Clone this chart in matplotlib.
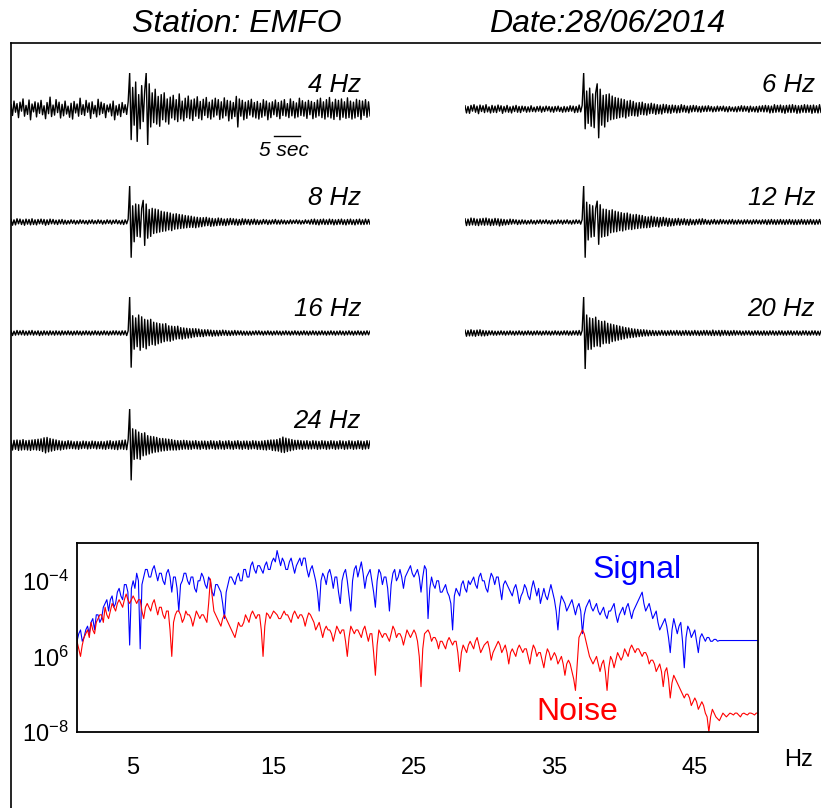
import numpy as np
import matplotlib
matplotlib.use("Agg")
import matplotlib.pyplot as plt

plt.rcParams['font.family'] = ['Liberation Sans', 'DejaVu Sans']
plt.rcParams['axes.unicode_minus'] = False

# ---------------- data ----------------
station_title = "Station: EMFO"
date_title = "Date:28/06/2014"
trace_seconds = 69.0          # time span of each trace
scale_bar_sec = 5

# waveform samples (percent of each trace's maximum), 240 samples per trace
tr_4hz = [12,-18,22,-9,15,-24,19,-6,28,-20,10,-15,25,-30,14,-8,20,-22,17,-12,
          24,-16,9,-27,18,-13,33,-21,11,-17,26,-10,19,-25,13,-19,22,-14,8,-23,
          16,-28,21,-11,14,-20,30,-15,12,-18,24,-9,17,-26,20,-13,10,-22,27,-16,
          19,-12,15,-24,11,-8,14,-19,22,-30,9,-17,13,-21,18,-10,12,-15,20,100,
          -85,60,-45,75,-90,40,-55,65,-35,50,100,-100,70,-50,45,-38,55,-42,35,-48,
          40,-30,45,-36,28,-42,33,-25,38,-30,26,-35,42,-28,22,-33,30,-24,36,-27,
          25,-32,28,-20,34,-26,21,-30,27,-18,32,-24,19,-28,25,-22,30,-17,26,-29,
          20,-25,31,-19,24,-33,22,-27,18,-21,35,-50,28,-20,24,-30,19,-26,23,-17,
          27,-22,18,-25,21,-28,16,-23,26,-19,22,-30,17,-24,20,-16,25,-21,18,-27,
          22,-18,26,-20,15,-24,28,-19,21,-25,17,-22,30,-18,23,-20,19,-26,24,-16,
          21,-27,18,-23,25,-19,30,-24,20,-28,26,-22,32,-25,19,-29,27,-21,24,-30,
          28,-23,20,-26,31,-24,22,-28,19,-25,27,-21,24,-29,22,-18,26,-23,20,-19]
tr_6hz = [9,-11,7,-12,10,-6,12,-9,8,-13,11,-7,9,-10,12,-8,6,-11,10,-9,
          8,-10,11,-6,9,-12,7,-8,10,-9,6,-11,8,-7,10,-9,7,-10,8,-6,
          7,-9,6,-8,9,-7,5,-8,7,-6,8,-9,6,-7,8,-5,7,-8,6,-9,
          7,-6,8,-7,5,-9,7,-8,6,-7,9,-6,8,-10,7,-9,11,-8,10,100,
          -55,50,-40,58,-48,42,-52,45,70,-80,55,-45,38,-50,40,-35,42,-30,36,-28,
          32,-26,30,-24,28,-22,26,-25,22,-20,24,-18,21,-19,17,-20,18,-15,19,-16,
          15,-17,14,-13,16,-12,14,-15,12,-13,11,-14,13,-10,12,-11,10,-12,11,-9,
          10,-11,9,-10,12,-8,10,-9,8,-11,9,-8,10,-7,9,-8,7,-9,8,-7,
          8,-7,9,-6,7,-8,6,-7,8,-6,7,-5,8,-7,6,-8,7,-6,5,-7,
          6,-8,7,-6,9,-7,8,-6,7,-9,8,-7,6,-8,7,-9,8,-7,9,-8,
          10,-8,9,-11,8,-10,12,-9,10,-8,11,-10,9,-12,10,-9,11,-10,12,-9,
          10,-12,9,-11,10,-9,12,-10,11,-9,10,-12,11,-10,9,-11,12,-10,11,-9]
tr_8hz = [7,-9,6,-8,9,-5,8,-7,6,-9,8,-6,7,-8,9,-7,6,-8,7,-5,
          8,-6,7,-9,6,-7,8,-5,7,-6,5,-7,6,-5,7,-6,5,-6,4,-5,
          6,-4,5,-6,4,-5,6,-4,5,-5,4,-6,5,-4,6,-5,4,-5,6,-4,
          5,-6,4,-5,6,-4,5,-6,5,-4,6,-5,4,-6,5,-7,6,-5,8,100,
          -98,45,-55,50,-40,48,-42,38,60,-65,50,-45,35,-40,38,-32,36,-30,34,-28,
          30,-26,28,-25,27,-22,25,-24,22,-20,23,-19,21,-18,20,-17,18,-16,17,-15,
          16,-15,14,-16,13,-14,12,-13,12,-11,13,-10,11,-12,10,-11,9,-10,11,-9,
          10,-9,8,-10,9,-8,10,-7,9,-8,8,-9,7,-8,9,-7,8,-6,7,-8,
          7,-6,8,-7,6,-7,5,-6,7,-5,6,-7,5,-6,6,-5,7,-6,5,-6,
          6,-5,5,-6,4,-5,6,-5,5,-4,6,-5,5,-6,4,-5,6,-4,5,-6,
          7,-6,8,-7,6,-8,7,-6,8,-7,6,-7,8,-6,7,-8,6,-7,7,-6,
          8,-7,6,-8,7,-6,8,-7,6,-8,7,-6,8,-7,6,-7,8,-6,7,-6]
tr_12hz = [9,-10,8,-9,11,-8,10,-9,8,-10,9,-8,10,-9,11,-8,9,-10,8,-9,
           10,-8,9,-11,8,-9,7,-8,6,-7,8,-6,7,-5,6,-7,5,-6,6,-5,
           5,-6,4,-5,6,-5,4,-6,5,-4,6,-5,5,-4,6,-5,4,-6,5,-5,
           4,-5,6,-4,5,-6,5,-4,6,-5,4,-6,5,-5,6,-4,5,-6,7,100,
           -98,55,-50,48,-42,45,-40,38,58,-62,48,-42,36,-40,35,-38,32,-30,34,-28,
           30,-27,28,-24,26,-25,24,-22,25,-20,22,-21,20,-19,21,-18,19,-17,18,-16,
           15,-16,14,-15,16,-13,14,-12,13,-14,12,-11,13,-10,11,-12,10,-11,9,-10,
           9,-8,10,-9,8,-7,9,-8,7,-9,8,-7,6,-8,7,-6,8,-7,9,-6,
           7,-6,5,-7,6,-5,7,-6,5,-6,7,-5,6,-5,5,-6,6,-5,7,-6,
           5,-6,6,-5,5,-6,6,-5,6,-5,5,-6,6,-5,6,-5,5,-6,6,-5,
           6,-7,6,-6,7,-6,6,-7,6,-6,7,-6,6,-7,6,-6,7,-6,6,-7,
           6,-7,6,-6,7,-6,6,-7,6,-6,7,-6,6,-7,6,-6,7,-6,6,-7]
tr_16hz = [6,-7,5,-6,7,-5,6,-5,7,-6,5,-6,6,-5,7,-6,5,-5,6,-7,
           5,-6,6,-5,5,-6,6,-5,5,-6,6,-5,5,-6,6,-5,5,-5,6,-5,
           5,-6,5,-5,6,-5,5,-6,5,-5,6,-5,5,-6,5,-5,6,-5,5,-6,
           5,-5,6,-5,5,-6,5,-5,6,-5,6,-5,5,-6,6,-5,6,-7,6,100,
           -95,48,-45,42,-38,50,-48,45,-40,38,-44,36,-35,38,-32,30,-34,28,-30,26,
           -27,25,-24,26,-22,20,-23,19,-20,18,-17,19,-16,15,-17,14,-15,13,-14,12,
           -13,12,-11,12,-10,11,-10,9,-10,9,-8,9,-8,8,-9,7,-8,7,-8,7,
           -7,8,-6,7,-7,6,-7,6,-6,7,-6,6,-5,6,-6,5,-6,5,-6,5,
           -6,5,-5,6,-5,6,-5,5,-6,5,-5,6,-5,5,-6,5,-5,6,-5,5,
           -6,5,-5,6,-5,5,-6,5,-5,6,-5,5,-6,5,-5,6,-5,5,-6,5,
           -5,6,-5,5,-6,5,-5,6,-5,5,-6,5,-5,6,-5,5,-6,5,-5,6,
           -5,5,-6,5,-5,6,-5,5,-6,5,-5,6,-5,5,-6,5,-5,6,-5,5]
tr_20hz = [8,-9,7,-8,9,-8,7,-9,8,-7,9,-8,7,-8,6,-7,6,-5,6,-6,
           5,-6,5,-5,6,-5,5,-6,5,-5,6,-5,5,-6,5,-5,6,-5,5,-6,
           5,-5,6,-5,5,-6,5,-5,6,-5,5,-6,5,-5,6,-5,5,-6,5,-5,
           6,-5,5,-6,5,-5,6,-5,6,-6,5,-6,6,-5,6,-6,7,-6,7,100,
           -100,50,-46,42,-45,40,-38,44,-36,35,-38,32,-30,33,-28,27,-29,25,-24,23,
           -22,21,-20,19,-18,17,-16,15,-14,14,-13,12,-12,11,-11,10,-10,9,-9,9,
           -8,8,-8,7,-7,7,-7,6,-7,6,-6,7,-6,6,-7,6,-6,7,-6,6,
           -6,7,-6,6,-7,6,-6,7,-6,6,-7,6,-6,7,-6,6,-7,6,-6,7,
           -6,7,-6,6,-7,8,-7,6,-6,7,-8,7,-6,7,-6,6,-7,6,-6,7,
           -6,6,-5,6,-6,5,-6,6,-5,6,-6,5,-6,6,-5,6,-6,5,-6,6,
           -6,5,-6,6,-5,6,-6,5,-6,6,-5,6,-6,5,-6,6,-5,6,-6,5,
           -5,6,-6,5,-6,6,-5,6,-6,5,-6,6,-5,6,-6,5,-6,6,-5,6]
tr_24hz = [12,-14,13,-12,14,-15,13,-14,15,-13,12,-14,13,-15,14,-13,15,-14,16,-15,
           17,-18,20,-22,21,-19,18,-17,16,-15,14,-13,12,-14,11,-12,10,-11,12,-10,
           11,-10,9,-11,10,-12,9,-10,11,-9,10,-11,9,-10,11,-9,10,-11,9,-10,
           10,-11,9,-12,11,-10,12,-11,10,-12,11,-13,12,-11,13,-12,14,-13,15,100,
           -97,45,-40,42,-38,36,-40,32,-30,34,-28,26,-25,24,-22,23,-20,21,-19,18,
           -17,18,-16,17,-15,16,-14,15,-14,13,-14,12,-13,12,-12,13,-11,12,-12,11,
           -12,11,-10,12,-11,10,-12,11,-10,11,-12,10,-11,12,-10,11,-12,10,-11,12,
           -11,10,-12,11,-10,12,-11,10,-12,11,-10,12,-11,10,-12,11,-10,11,-12,10,
           -11,12,-10,11,-12,10,-12,11,-13,12,-14,13,-12,14,-15,14,-16,15,-17,18,
           -20,22,-21,19,-18,17,-16,15,-14,13,-12,13,-11,12,-12,11,-10,12,-11,10,
           -11,12,-10,11,-12,10,-11,12,-10,11,-12,10,-11,12,-10,11,-12,10,-11,12,
           -10,11,-12,10,-11,12,-10,11,-12,10,-11,12,-10,11,-12,10,-11,12,-10,11]

trace_labels = ["4 Hz", "6 Hz", "8 Hz", "12 Hz", "16 Hz", "20 Hz", "24 Hz"]
traces = [tr_4hz, tr_6hz, tr_8hz, tr_12hz, tr_16hz, tr_20hz, tr_24hz]

# spectra (log10 amplitude), 1.0 .. 49.5 Hz every 0.125 Hz (8 readings per Hz)
spec_f_start, spec_f_step = 1.0, 0.125
signal_log = [
    -5.6,-5.4,-5.3,-5.6,-5.5,-5.3,-5.2,-5.4,   -5.1,-5.0,-5.3,-4.9,-4.9,-5.1,-5.0,-4.7,
    -4.6,-4.5,-4.8,-4.5,-4.4,-4.7,-4.6,-4.3,   -4.2,-4.4,-4.5,-4.1,-4.1,-4.3,-5.7,-4.2,
    -4.0,-4.2,-3.8,-4.0,-5.8,-4.1,-3.9,-3.7,   -3.7,-3.9,-3.9,-3.7,-3.6,-3.8,-4.0,-3.8,
    -3.8,-4.0,-4.1,-3.8,-3.7,-3.9,-4.3,-3.9,   -3.9,-4.2,-4.8,-4.1,-4.0,-3.8,-3.8,-4.0,
    -4.1,-3.9,-3.9,-4.2,-4.3,-4.0,-4.0,-3.8,   -3.9,-4.1,-4.2,-3.9,-4.0,-4.3,-4.4,-4.1,
    -4.1,-4.2,-4.3,-4.6,-5.0,-4.3,-4.1,-3.9,   -3.9,-4.0,-4.1,-3.9,-3.8,-4.0,-4.0,-3.7,
    -3.7,-3.9,-3.9,-3.6,-3.5,-3.7,-3.8,-3.6,   -3.6,-3.7,-3.8,-3.6,-3.5,-3.7,-3.7,-3.5,
    -3.4,-3.5,-3.2,-3.4,-3.6,-3.4,-3.5,-3.7,   -3.7,-3.5,-3.4,-3.6,-3.8,-3.6,-3.5,-3.4,
    -3.6,-3.4,-3.4,-3.7,-3.9,-3.7,-3.6,-3.8,   -4.0,-4.3,-4.8,-4.0,-3.8,-3.9,-4.1,-3.8,
    -3.7,-3.9,-4.2,-3.9,-3.9,-4.3,-4.6,-4.0,   -3.8,-3.7,-4.0,-4.4,-4.8,-4.0,-3.7,-3.6,
    -3.9,-3.7,-3.5,-3.8,-4.2,-3.9,-3.8,-3.7,   -4.0,-4.3,-4.7,-4.0,-3.7,-3.8,-4.1,-3.9,
    -3.9,-4.2,-4.8,-4.1,-3.8,-3.7,-4.0,-3.9,   -3.7,-3.9,-4.2,-3.9,-3.8,-3.7,-3.6,-3.8,
    -3.9,-3.8,-3.7,-3.9,-4.3,-3.9,-3.6,-3.7,   -5.0,-4.2,-3.9,-4.1,-4.2,-4.0,-4.0,-4.3,
    -4.3,-4.2,-4.1,-4.3,-4.4,-4.6,-5.3,-4.4,   -4.2,-4.3,-4.4,-4.1,-4.0,-4.2,-4.3,-4.0,
    -4.1,-4.0,-3.9,-4.1,-4.2,-3.9,-3.8,-4.0,   -4.0,-4.2,-4.3,-4.0,-3.8,-3.9,-4.1,-3.9,
    -3.9,-4.2,-4.5,-4.1,-4.0,-4.1,-4.2,-4.3,   -4.4,-4.2,-4.1,-4.3,-4.6,-4.4,-4.3,-4.1,
    -4.2,-4.4,-4.5,-4.2,-4.0,-4.2,-4.4,-4.2,   -4.6,-4.4,-4.2,-4.4,-4.5,-4.3,-4.1,-4.3,
    -4.5,-4.8,-5.3,-4.7,-4.4,-4.5,-4.6,-4.8,   -4.7,-4.6,-4.5,-4.7,-4.9,-4.7,-4.6,-4.8,
    -5.4,-4.9,-4.7,-4.6,-4.5,-4.7,-4.8,-4.7,   -4.6,-4.8,-4.9,-4.8,-4.7,-4.9,-5.0,-4.8,
    -4.8,-4.7,-4.6,-4.9,-5.1,-4.9,-4.8,-4.7,   -4.9,-4.7,-4.6,-4.8,-5.0,-4.8,-4.7,-4.6,
    -4.5,-4.4,-4.3,-4.6,-4.8,-4.7,-4.6,-4.8,   -5.0,-4.9,-4.8,-5.1,-5.3,-5.2,-5.1,-5.0,
    -5.2,-5.5,-5.9,-5.3,-5.0,-5.2,-5.4,-5.2,   -5.1,-5.6,-6.3,-5.5,-5.2,-5.3,-5.5,-5.4,
    -5.3,-5.6,-5.9,-5.5,-5.4,-5.5,-5.6,-5.5,   -5.5,-5.6,-5.6,-5.55,-5.55,-5.6,-5.58,-5.58,
    -5.58,-5.58,-5.58,-5.58,-5.58,-5.58,-5.58,-5.58,
    -5.58,-5.58,-5.58,-5.58,-5.58,-5.58,-5.58,-5.58,
    -5.58,-5.58,-5.58,-5.58,-5.58]
noise_log = [
    -5.6,-5.8,-6.0,-5.7,-5.5,-5.4,-5.3,-5.5,   -5.1,-5.3,-5.4,-5.1,-5.0,-4.9,-4.9,-5.1,
    -4.7,-4.9,-5.0,-4.8,-4.6,-4.7,-4.8,-4.6,   -4.5,-4.6,-4.7,-4.5,-4.35,-4.5,-4.6,-4.5,
    -4.4,-4.5,-4.6,-4.5,-4.5,-4.8,-5.0,-4.7,   -4.6,-4.7,-4.8,-4.6,-4.5,-4.7,-4.9,-4.7,
    -4.7,-4.9,-5.0,-4.8,-4.8,-5.3,-6.0,-5.1,   -4.9,-4.8,-4.8,-4.9,-5.1,-5.0,-4.8,-4.9,
    -4.9,-5.0,-5.2,-5.0,-4.8,-4.9,-5.0,-4.9,   -4.9,-5.0,-5.1,-4.6,-3.95,-4.4,-4.8,-4.9,
    -5.0,-5.1,-5.2,-5.0,-4.9,-5.0,-5.1,-5.2,   -5.3,-5.4,-5.5,-5.3,-5.1,-5.2,-5.2,-5.1,
    -4.9,-5.0,-5.1,-4.9,-4.8,-4.9,-5.0,-4.9,   -4.9,-5.3,-6.0,-5.2,-4.85,-4.9,-5.0,-4.9,
    -4.8,-4.85,-4.9,-5.0,-5.0,-4.9,-4.8,-4.9,  -4.9,-5.0,-5.1,-4.9,-4.8,-4.9,-5.0,-4.9,
    -4.9,-5.0,-5.2,-5.0,-4.85,-4.9,-5.0,-5.1,  -5.3,-5.2,-5.1,-5.3,-5.5,-5.3,-5.2,-5.3,
    -5.3,-5.4,-5.6,-5.4,-5.2,-5.3,-5.4,-5.3,   -5.3,-5.6,-6.0,-5.5,-5.2,-5.3,-5.4,-5.3,
    -5.3,-5.4,-5.5,-5.3,-5.2,-5.4,-5.6,-5.4,   -5.4,-5.9,-6.5,-5.7,-5.3,-5.4,-5.5,-5.4,
    -5.4,-5.5,-5.6,-5.4,-5.2,-5.3,-5.5,-5.4,   -5.4,-5.5,-5.7,-5.5,-5.3,-5.4,-5.5,-5.4,
    -5.3,-5.4,-5.6,-6.0,-6.8,-5.8,-5.4,-5.35,  -5.3,-5.4,-5.6,-5.5,-5.5,-5.6,-5.8,-5.6,
    -5.6,-5.7,-5.8,-5.6,-5.5,-5.6,-5.7,-5.6,   -5.6,-5.9,-6.4,-5.9,-5.7,-5.8,-5.9,-5.7,
    -5.6,-5.7,-5.8,-5.6,-5.5,-5.7,-5.9,-5.8,   -5.7,-5.65,-5.6,-5.8,-6.1,-5.9,-5.8,-5.7,
    -5.6,-5.7,-5.9,-5.8,-5.7,-5.9,-6.2,-5.9,   -5.8,-5.9,-6.0,-5.8,-5.7,-5.8,-5.9,-5.8,
    -5.8,-6.0,-6.2,-5.9,-5.7,-5.8,-6.0,-5.9,   -5.9,-6.1,-6.3,-6.0,-5.8,-5.9,-6.1,-6.0,
    -5.9,-6.0,-6.2,-6.1,-6.0,-6.2,-6.5,-6.2,   -6.1,-6.2,-6.4,-6.6,-6.9,-6.2,-5.5,-5.4,
    -5.3,-5.4,-5.6,-5.8,-6.0,-6.1,-6.2,-6.1,   -6.0,-6.2,-6.4,-6.2,-6.1,-6.4,-6.9,-6.3,
    -6.0,-6.1,-6.3,-6.1,-5.9,-6.0,-6.1,-6.0,   -5.8,-5.9,-6.0,-5.8,-5.7,-5.8,-5.9,-5.8,
    -5.8,-5.9,-6.0,-5.9,-5.9,-6.0,-6.2,-6.1,   -6.1,-6.2,-6.4,-6.3,-6.2,-6.4,-6.8,-6.4,
    -6.3,-6.6,-7.1,-6.7,-6.5,-6.6,-6.7,-6.8,   -6.9,-7.0,-7.1,-7.0,-7.0,-7.1,-7.3,-7.2,
    -7.1,-7.2,-7.4,-7.3,-7.2,-7.3,-7.5,-7.6,   -8.0,-7.6,-7.4,-7.5,-7.6,-7.65,-7.7,-7.6,
    -7.5,-7.55,-7.6,-7.55,-7.5,-7.52,-7.55,-7.5,
    -7.5,-7.55,-7.6,-7.52,-7.5,-7.53,-7.55,-7.5,
    -7.5,-7.52,-7.55,-7.5,-7.5]

x_ticks = [5, 15, 25, 35, 45]
y_ticks = [1e-8, 1e-6, 1e-4]
y_tick_labels = [r'$\mathregular{10^{-8}}$', r'$\mathregular{10^{6}}$', r'$\mathregular{10^{-4}}$']

# ---------------- layout ----------------
W, H = 821, 808
fig = plt.figure(figsize=(W / 100, H / 100), dpi=100)

def box(x0, y0, x1, y1):
    return [x0 / W, 1 - y1 / H, (x1 - x0) / W, (y1 - y0) / H]

def fpt(x, y):
    return x / W, 1 - y / H

# outer frame (left & top only visible)
frame = fig.add_axes(box(10.5, 42.5, 900, 900))
frame.set_xticks([]); frame.set_yticks([])
for s in ['right', 'bottom']:
    frame.spines[s].set_visible(False)
for s in ['left', 'top']:
    frame.spines[s].set_linewidth(1.2)
frame.patch.set_alpha(0)

fig.text(*fpt(237, 24), station_title, fontsize=23, style='italic', ha='center', va='center')
fig.text(*fpt(607, 24), date_title, fontsize=23, style='italic', ha='center', va='center')

# traces
col_x = [11, 465]
row_y = [109, 222, 333, 445]
trace_w = 359
half_h = 36
for i, (vals, lab) in enumerate(zip(traces, trace_labels)):
    r, c = divmod(i, 2)
    x0 = col_x[c]; yb = row_y[r]
    ax = fig.add_axes(box(x0, yb - half_h, x0 + trace_w, yb + half_h))
    t = np.linspace(0, trace_seconds, len(vals))
    ax.plot(t, vals, color='black', lw=1.0)
    ax.set_xlim(0, trace_seconds)
    ax.set_ylim(-100, 100)
    ax.axis('off')
    ax.text(1 - 9 / trace_w, (half_h + 24) / (2 * half_h), lab, transform=ax.transAxes,
            fontsize=18.5, style='italic', ha='right', va='center')
    if i == 0:
        xs = 50.5
        ax.plot([xs, xs + scale_bar_sec], [-75, -75], color='black', lw=1.0, clip_on=False)
        ax.text(xs + scale_bar_sec / 2 - 0.6, -115, f"{scale_bar_sec} sec", fontsize=15,
                style='italic', ha='center', va='center', clip_on=False)

# spectrum
sp = fig.add_axes(box(77, 543, 758, 732))
freqs = spec_f_start + spec_f_step * np.arange(len(signal_log))
sp.semilogy(freqs, 10.0 ** np.array(signal_log), color=(0, 0, 1), lw=0.8)
sp.semilogy(freqs, 10.0 ** np.array(noise_log), color=(1, 0, 0), lw=0.8)
sp.set_xlim(1, 49.5)
sp.set_ylim(1e-8, 1e-3)
sp.set_xticks(x_ticks)
sp.set_xticklabels([str(v) for v in x_ticks])
sp.set_yticks(y_ticks)
sp.set_yticklabels(y_tick_labels)
sp.minorticks_off()
sp.tick_params(length=0, labelsize=17)
sp.tick_params(axis='x', pad=18)
sp.tick_params(axis='y', pad=6)
for s in sp.spines.values():
    s.set_linewidth(1.3)
sp.text((637 - 77) / 681, 1 - (570 - 543) / 189, "Signal", transform=sp.transAxes,
        color=(0, 0, 1), fontsize=23, ha='center', va='center')
sp.text((577 - 77) / 681, 1 - (712 - 543) / 189, "Noise", transform=sp.transAxes,
        color=(1, 0, 0), fontsize=23, ha='center', va='center')
fig.text(*fpt(798, 760), "Hz", fontsize=17, ha='center', va='center')

fig.savefig("out.png", dpi=100)
